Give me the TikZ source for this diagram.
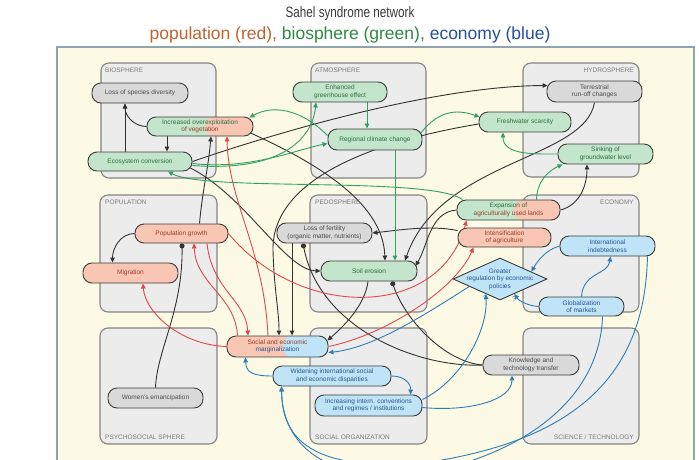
\documentclass[tikz,border=0pt]{standalone}
\usepackage{fontspec}
\setmainfont{Liberation Sans}
\usetikzlibrary{shapes.geometric,arrows.meta,calc}
\pgfdeclarelayer{bg}
\pgfdeclarelayer{lines}
\pgfsetlayers{bg,lines,main}
\definecolor{panel}{HTML}{FCFAE4}
\definecolor{panelborder}{HTML}{8FA4AE}
\definecolor{spherefill}{HTML}{ECECEC}
\definecolor{spheredraw}{HTML}{858585}
\definecolor{labelgray}{HTML}{7A7A7A}
\definecolor{nodedraw}{HTML}{3C3C3C}
\definecolor{gfill}{HTML}{C2E5CC}
\definecolor{rfill}{HTML}{F8C6B2}
\definecolor{bfill}{HTML}{C0E4F7}
\definecolor{kfill}{HTML}{D9D9D9}
\definecolor{gtext}{HTML}{2F6E3E}
\definecolor{rtext}{HTML}{9A3D2C}
\definecolor{btext}{HTML}{245592}
\definecolor{ktext}{HTML}{4A4A4A}
\definecolor{eblack}{HTML}{333333}
\definecolor{ered}{HTML}{E2474C}
\definecolor{egreen}{HTML}{2FA35C}
\definecolor{eblue}{HTML}{2F7DB8}
\definecolor{ttitle}{HTML}{3A3A3A}
\definecolor{tred}{HTML}{C2642E}
\definecolor{tgreen}{HTML}{2E8A42}
\definecolor{tblue}{HTML}{28519C}
\tikzset{
 x=1pt,y=-1pt,
 sphere/.style={draw=spheredraw,fill=spherefill,rounded corners=8pt,line width=1.1pt,inner sep=0pt},
 slabel/.style={font=\fontsize{6.5}{7}\selectfont,text=labelgray,inner sep=0pt},
 nd/.style={draw=nodedraw,line width=0.9pt,rounded corners=9pt,inner sep=1pt,align=center,font=\fontsize{6.5}{7.5}\selectfont},
 gnode/.style={nd,fill=gfill,text=gtext},
 rnode/.style={nd,fill=rfill,text=rtext},
 bnode/.style={nd,fill=bfill,text=btext},
 knode/.style={nd,fill=kfill,text=ktext},
 splitfill/.style={path picture={\fill[#1] ($(path picture bounding box.south west)!0.55!(path picture bounding box.south east)$) rectangle (path picture bounding box.north east);}},
 arrowtip/.style={-{Triangle[length=5pt,width=4.6pt]}},
 dottip/.style={-{Circle[length=5pt]}},
 ed/.style={line width=0.9pt},
 bk/.style={ed,draw=eblack,arrowtip},
 bkdot/.style={ed,draw=eblack,dottip},
 gr/.style={ed,draw=egreen,arrowtip},
 rd/.style={ed,draw=ered,arrowtip},
 bl/.style={ed,draw=eblue,arrowtip},
 qmark/.style={font=\fontsize{7}{8}\selectfont,text=eblue,inner sep=0pt},
}
\begin{document}
\begin{tikzpicture}
\useasboundingbox (0,0) rectangle (699,459);
\begin{pgfonlayer}{bg}
\fill[white] (0,0) rectangle (699,459);
\fill[panel] (57,47) rectangle (694,475);
\draw[panelborder,line width=1.3pt] (57,475) -- (57,47) -- (694,47) -- (694,475);
\node[sphere,minimum width=115,minimum height=115] (bio) at (158.5,120.5) {};
\node[sphere,minimum width=115,minimum height=115] (atm) at (368.5,120.5) {};
\node[sphere,minimum width=116,minimum height=114] (hyd) at (581,120) {};
\node[sphere,minimum width=117,minimum height=117] (pop) at (158.5,253.5) {};
\node[sphere,minimum width=117,minimum height=117] (ped) at (368.5,253.5) {};
\node[sphere,minimum width=116,minimum height=117] (eco) at (581,253.5) {};
\node[sphere,minimum width=117,minimum height=116] (psy) at (158.5,386) {};
\node[sphere,minimum width=117,minimum height=116] (soc) at (368.5,386) {};
\node[sphere,minimum width=116,minimum height=116] (sci) at (581,386) {};
\end{pgfonlayer}
\node[slabel,anchor=west] (biol) at (105,70) {BIOSPHERE};
\node[slabel,anchor=west] (atml) at (315,70) {ATMOSPHERE};
\node[slabel,anchor=east] (hydl) at (634,70) {HYDROSPHERE};
\node[slabel,anchor=west] (popl) at (105,202) {POPULATION};
\node[slabel,anchor=west] (pedl) at (315,202) {PEDOSPHERE};
\node[slabel,anchor=east] (ecol) at (634,202) {ECONOMY};
\node[slabel,anchor=west] (psyl) at (105,437) {PSYCHOSOCIAL SPHERE};
\node[slabel,anchor=west] (socl) at (315,437) {SOCIAL ORGANIZATION};
\node[slabel,anchor=east] (scil) at (634,437) {SCIENCE / TECHNOLOGY};
\node[font=\fontsize{15}{17}\selectfont,text=ttitle,inner sep=0pt] (title) at (350,14) {\scalebox{0.78}[1]{Sahel syndrome network}};
\node[font=\fontsize{17.5}{19}\selectfont,inner sep=0pt] (subtitle) at (350,34.5) {\textcolor{tred}{population (red),} \textcolor{tgreen}{biosphere (green),} \textcolor{tblue}{economy (blue)}};
% nodes
\node[knode,minimum width=96,minimum height=20] (spdiv) at (140,93) {Loss of species diversity};
\node[gnode,splitfill=rfill,minimum width=106,minimum height=19] (overex) at (200,126.5) {\textcolor{gtext}{Increased overexploitation}\\\textcolor{rtext}{of vegetation}};
\node[gnode,minimum width=104,minimum height=19] (ecoconv) at (140,161.5) {Ecosystem conversion};
\node[gnode,minimum width=94,minimum height=20] (greenh) at (340,92) {Enhanced\\greenhouse effect};
\node[gnode,minimum width=94,minimum height=21] (climate) at (375,139.5) {Regional climate change};
\node[knode,minimum width=95,minimum height=21] (runoff) at (594.5,91.5) {Terrestrial\\run-off changes};
\node[gnode,minimum width=92,minimum height=20] (fresh) at (525,122) {Freshwater scarcity};
\node[gnode,minimum width=95,minimum height=20] (sinking) at (605.5,154) {Sinking of\\groundwater level};
\node[rnode,minimum width=93,minimum height=19] (popgr) at (181.5,233.5) {Population growth};
\node[rnode,minimum width=95,minimum height=20] (migr) at (130.5,273) {Migration};
\node[knode,minimum width=95,minimum height=20] (fert) at (324.5,233) {Loss of fertility\\(organic matter, nutrients)};
\node[gnode,minimum width=96,minimum height=20] (erosion) at (369,271) {Soil erosion};
\node[gnode,splitfill=rfill,minimum width=103,minimum height=20] (expan) at (508.5,210) {\textcolor{gtext}{Expansion of}\\\textcolor{rtext}{agriculturally used lands}};
\node[rnode,minimum width=93,minimum height=19] (intens) at (504.5,237.5) {Intensification\\of agriculture};
\node[bnode,minimum width=95,minimum height=20] (indebt) at (607.5,246) {International\\indebtedness};
\node[diamond,draw=nodedraw,line width=0.9pt,fill=bfill,minimum width=94,minimum height=42,inner sep=0pt] (regul) at (500,279) {};
\node[font=\fontsize{6.5}{7.5}\selectfont,text=btext,align=center,inner sep=0pt] (regultext) at (regul) {Greater\\regulation by economic\\policies};
\node[bnode,minimum width=85,minimum height=19] (glob) at (581.5,306.5) {Globalization\\of markets};
\node[rnode,splitfill=bfill,minimum width=101,minimum height=21] (margin) at (277.5,346.5) {\textcolor{rtext}{Social and economic}\\\textcolor{btext}{marginalization}};
\node[bnode,minimum width=118,minimum height=20] (widen) at (332,376) {Widening international social\\and economic disparities};
\node[bnode,minimum width=107,minimum height=21] (conv) at (368.5,405.5) {Increasing intern. conventions\\and regimes / institutions};
\node[knode,minimum width=95,minimum height=20] (women) at (155.5,398) {Women's emancipation};
\node[knode,minimum width=96,minimum height=20] (know) at (531,365) {Knowledge and\\technology transfer};
\node[qmark] (q1) at (485,298) {?};
\node[qmark] (q2) at (514,299) {?};
\begin{pgfonlayer}{lines}
% black
\draw[bk] ($(overex.south)+(-33,0)$) -- ($(ecoconv.north)+(27,0)$);
\draw[bk] ($(ecoconv.north)+(-15,0)$) -- ($(spdiv.south)+(-15,0)$);
\draw[bk] (overex.west) to[out=180,in=-90] ($(spdiv.south)+(-15,0)$);
\draw[bk] ($(popgr.north)+(18,0)$) to[out=85,in=-95] ($(overex.south)+(11,0)$);
\draw[bk] (popgr.west) to[out=180,in=90] ($(migr.north)+(-18,0)$);
\draw[bkdot] (women.north) .. controls (157,350) and (183,310) .. ($(popgr.south)+(0.5,0)$);
\draw[bk] (ecoconv.east) .. controls (290,128) and (440,86) .. ($(runoff.west)+(1,-6)$);
\draw[bk] ($(overex.east)+(-4,6)$) .. controls (310,160) and (383,200) .. ($(erosion.north)+(16,0)$);
\draw[bk] ($(ecoconv.east)+(-3,6)$) .. controls (245,195) and (285,270) .. (erosion.west);
\draw[bk] ($(fresh.west)+(0,2)$) .. controls (370,142) and (272,180) .. (273,250) .. controls (274,290) and (279,310) .. ($(margin.north)+(1.5,0)$);
\draw[bk] ($(fert.south)+(-32.5,0)$) -- ($(margin.north)+(14.5,0)$);
\draw[bk] ($(erosion.south)+(-1,0)$) .. controls (365,305) and (345,325) .. ($(margin.east)+(-1,-6)$);
\draw[bkdot] (know.west) .. controls (445,362) and (405,320) .. ($(erosion.south)+(23,0)$);
\draw[bkdot] (know.west) .. controls (420,368) and (320,330) .. ($(fert.south)+(-21.5,0)$);
\draw[bk] ($(intens.west)+(0,-7)$) .. controls (430,225) and (400,230) .. (fert.east);
\draw[bk] (expan.east) .. controls (580,205) and (587,185) .. ($(sinking.south)+(-18.5,0)$);
\draw[bk] (runoff.south) .. controls (585,160) and (440,160) .. ($(erosion.north)+(36,0)$);
\draw[bk] (expan.west) .. controls (430,212) and (428,245) .. ($(erosion.east)+(-2,-5)$);
% green
\draw[gr] ($(climate.west)+(0,-4)$) .. controls (300,108) and (272,105) .. ($(overex.north east)+(-4,1)$);
\draw[gr] ($(ecoconv.east)+(0,2)$) .. controls (250,170) and (295,150) .. ($(climate.west)+(0,4)$);
\draw[gr] ($(ecoconv.east)+(0,4)$) .. controls (280,172) and (312,140) .. ($(greenh.south)+(-24,0)$);
\draw[gr] ($(greenh.south)+(27,0)$) -- ($(climate.north)+(-8,0)$);
\draw[gr] ($(climate.south)+(20,0)$) -- ($(erosion.north)+(26,0)$);
\draw[gr] ($(climate.east)+(-2,-6)$) .. controls (440,108) and (460,110) .. ($(fresh.west)+(1,-5)$);
\draw[gr] (sinking.west) to[out=180,in=-90] ($(fresh.south)+(-22,0)$);
\draw[gr] ($(expan.north)+(28,0)$) .. controls (537,180) and (550,170) .. ($(sinking.south west)+(5,0)$);
\draw[gr] ($(expan.north west)+(6,0)$) .. controls (430,176) and (205,192) .. ($(ecoconv.south)+(28,0)$);
% red
\draw[rd] (margin.west) .. controls (180,345) and (145,312) .. ($(migr.south)+(12.5,0)$);
\draw[rd] ($(margin.north)+(-40,0)$) .. controls (235,295) and (196,285) .. ($(popgr.south)+(12.5,0)$);
\draw[rd] ($(popgr.south)+(25.5,0)$) .. controls (212,290) and (246,300) .. ($(margin.north)+(-29.5,0)$);
\draw[rd] ($(margin.north)+(-9.5,0)$) .. controls (264,250) and (228,200) .. ($(overex.south)+(27,0)$);
\draw[rd] (popgr.east) .. controls (300,320) and (440,320) .. ($(expan.south west)+(10,0)$);
\draw[rd] (margin.east) .. controls (385,335) and (455,290) .. ($(intens.south west)+(16,0)$);
% blue
\draw[bl] (glob.north) .. controls (583,272) and (608,275) .. ($(indebt.south)+(3,0)$);
\draw[bl] (indebt.west) .. controls (545,250) and (537,262) .. ($(regul.north)!0.66!(regul.east)$);
\draw[bl] (glob.west) .. controls (530,306) and (520,302) .. ($(regul.south)!0.3!(regul.east)$);
\draw[bl] ($(conv.east)+(0,-6)$) .. controls (462,380) and (488,330) .. ($(regul.south)!0.3!(regul.west)$);
\draw[bl] ($(regul.west)!0.35!(regul.south)$) .. controls (420,318) and (372,348) .. ($(margin.east)+(0,6)$);
\draw[bl] (widen.west) .. controls (252,376) and (246,372) .. ($(margin.south)+(-32,0)$);
\draw[bl] (widen.east) .. controls (405,376) and (411,384) .. ($(conv.north)+(42,0)$);
\draw[bl] ($(conv.east)+(0,2)$) .. controls (470,412) and (512,400) .. ($(know.south)+(-19,0)$);
\draw[bl] ($(indebt.south east)+(-8,0)$) .. controls (645,380) and (570,440) .. (430,462) .. controls (300,475) and (282,430) .. ($(widen.south west)+(9,0)$);
\draw[bl] ($(glob.south)+(21,0)$) .. controls (600,390) and (540,445) .. (440,470) .. controls (320,490) and (282,440) .. ($(widen.south west)+(9,0)$);
\end{pgfonlayer}
\end{tikzpicture}
\end{document}
